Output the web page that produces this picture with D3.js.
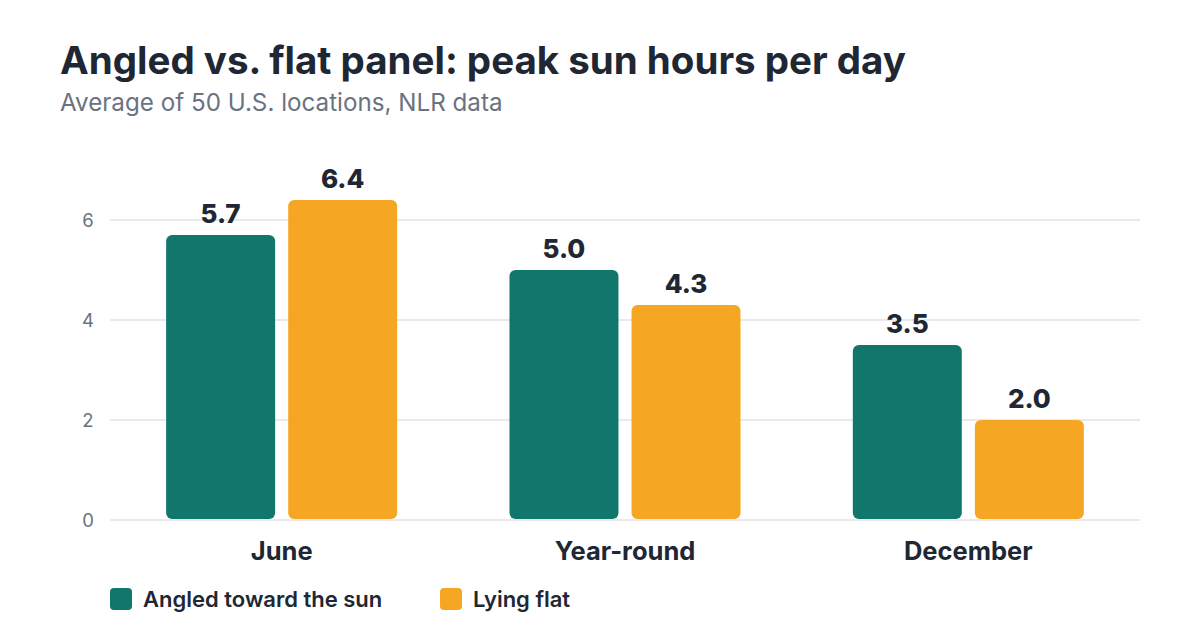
<!DOCTYPE html>
<html>
<head>
<meta charset="utf-8">
<script src="https://cdn.jsdelivr.net/npm/d3@7"></script>
<style>
  body { margin: 0; background: #fff; }
  svg { display: block; font-family: Inter, "Noto Sans", sans-serif; }
</style>
</head>
<body>
<div id="chart"></div>
<script>
var categories = ['June', 'Year-round', 'December'];
var seriesNames = ['Angled toward the sun', 'Lying flat'];
var angled = [5.7, 5.0, 3.5];
var flat = [6.4, 4.3, 2.0];
var yTicks = [0, 2, 4, 6];
var colors = ['#11766c', '#f5a623'];

var width = 1200, height = 640;
var margin = { left: 110, right: 60, top: 170, bottom: 120 };

var svg = d3.select('#chart').append('svg')
  .attr('width', width)
  .attr('height', height);

svg.append('text')
  .attr('x', 60)
  .attr('y', 74)
  .attr('font-size', '38.5px')
  .attr('font-weight', 700)
  .attr('fill', '#1e2733')
  .text('Angled vs. flat panel: peak sun hours per day');

svg.append('text')
  .attr('x', 60)
  .attr('y', 111)
  .attr('font-size', '24.2px')
  .attr('fill', '#6b7280')
  .text('Average of 50 U.S. locations, NLR data');

var x0 = d3.scaleBand()
  .domain(categories)
  .range([margin.left, width - margin.right])
  .paddingInner(0)
  .paddingOuter(0);

var x1 = d3.scaleBand()
  .domain(seriesNames)
  .range([0, x0.bandwidth()])
  .paddingInner(0.107)
  .paddingOuter(0.46);

var y = d3.scaleLinear()
  .domain([0, 6])
  .range([520, 220]);

// grid
svg.append('g')
  .selectAll('line')
  .data(yTicks)
  .enter()
  .append('line')
  .attr('x1', margin.left)
  .attr('x2', width - margin.right)
  .attr('y1', function(d) { return y(d); })
  .attr('y2', function(d) { return y(d); })
  .attr('stroke', '#e3e3e3')
  .attr('stroke-width', 1.5);

svg.append('g')
  .selectAll('text')
  .data(yTicks)
  .enter()
  .append('text')
  .attr('x', 88)
  .attr('y', function(d) { return y(d); })
  .attr('dy', '0.36em')
  .attr('text-anchor', 'middle')
  .attr('font-size', '18.5px')
  .attr('fill', '#6b7280')
  .text(function(d) { return d; });

var rows = categories.map(function(c, i) {
  return { cat: c, values: [angled[i], flat[i]] };
});

var groups = svg.append('g')
  .selectAll('g')
  .data(rows)
  .enter()
  .append('g')
  .attr('transform', function(d) { return 'translate(' + x0(d.cat) + ',0)'; });

groups.selectAll('rect')
  .data(function(d) { return d.values.map(function(v, j) { return { name: seriesNames[j], v: v, j: j }; }); })
  .enter()
  .append('rect')
  .attr('x', function(d) { return x1(d.name); })
  .attr('width', x1.bandwidth())
  .attr('y', function(d) { return y(d.v); })
  .attr('height', function(d) { return y(0) - y(d.v) - 1; })
  .attr('rx', 6)
  .attr('fill', function(d) { return colors[d.j]; });

groups.selectAll('text.val')
  .data(function(d) { return d.values.map(function(v, j) { return { name: seriesNames[j], v: v }; }); })
  .enter()
  .append('text')
  .attr('class', 'val')
  .attr('x', function(d) { return x1(d.name) + x1.bandwidth() / 2; })
  .attr('y', function(d) { return y(d.v) - 12; })
  .attr('text-anchor', 'middle')
  .attr('font-size', '26px')
  .attr('font-weight', 800)
  .attr('fill', '#1e2733')
  .text(function(d) { return d.v.toFixed(1); });

svg.append('g')
  .selectAll('text')
  .data(categories)
  .enter()
  .append('text')
  .attr('x', function(d) { return x0(d) + x0.bandwidth() / 2; })
  .attr('y', 560)
  .attr('text-anchor', 'middle')
  .attr('font-size', '25.5px')
  .attr('font-weight', 700)
  .attr('fill', '#1e2733')
  .text(function(d) { return d; });

// legend
var legendX = [110, 440];
var legend = svg.append('g')
  .selectAll('g')
  .data(seriesNames)
  .enter()
  .append('g')
  .attr('transform', function(d, i) { return 'translate(' + legendX[i] + ',588)'; });

legend.append('rect')
  .attr('width', 22)
  .attr('height', 22)
  .attr('rx', 4)
  .attr('fill', function(d, i) { return colors[i]; });

legend.append('text')
  .attr('x', 33)
  .attr('y', 11)
  .attr('dy', '0.36em')
  .attr('font-size', '22px')
  .attr('font-weight', 600)
  .attr('fill', '#1e2733')
  .text(function(d) { return d; });
</script>
</body>
</html>
